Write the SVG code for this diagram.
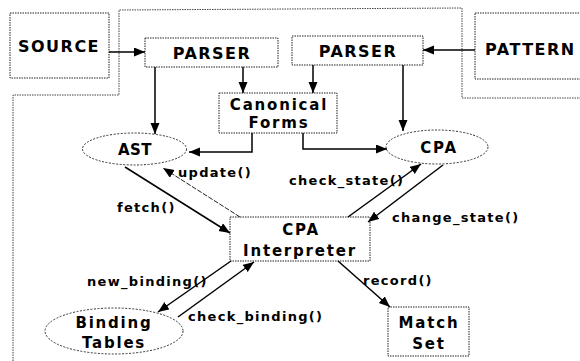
<svg xmlns="http://www.w3.org/2000/svg" width="580" height="361" viewBox="0 0 580 361">
<style>
.bg{fill:#fff}
.frame{fill:none;stroke:#444;stroke-width:1;stroke-dasharray:1.5 1}
.box{fill:#fff;stroke:#222;stroke-width:1;stroke-dasharray:1.5 1}
.ell{fill:#fff;stroke:#333;stroke-width:1;stroke-dasharray:2 1.5}
.big{font-family:"DejaVu Sans","Liberation Sans",sans-serif;font-weight:bold;font-size:16px;letter-spacing:1.5px;fill:#000;text-anchor:middle}
.node{font-family:"DejaVu Sans","Liberation Sans",sans-serif;font-weight:bold;font-size:15px;letter-spacing:1.8px;fill:#000;text-anchor:middle}
.lbl{font-family:"DejaVu Sans","Liberation Sans",sans-serif;font-weight:bold;font-size:13px;letter-spacing:1.3px;fill:#000}
.arr{fill:none;stroke:#000;stroke-width:1.5;marker-end:url(#ah)}
.thin{fill:none;stroke:#222;stroke-width:1;stroke-dasharray:5 1.5;marker-end:url(#ah)}
</style>
<defs>
<marker id="ah" markerUnits="userSpaceOnUse" markerWidth="12" markerHeight="10" refX="11" refY="4.5" orient="auto">
<path d="M0,0 L11,4.5 L0,9 z" fill="#000"/>
</marker>
</defs>
<rect class="bg" x="0" y="0" width="580" height="361"/>
<path class="frame" d="M13,361 L13,95 L119,95 L119,10 L462,8 L462,98 L580,98"/>

<g id="source"><rect class="box" x="10" y="13" width="99" height="65"/><text class="big" x="59" y="52">SOURCE</text></g>
<g id="parser1"><rect class="box" x="145" y="38" width="133" height="29"/><text class="big" x="212" y="59">PARSER</text></g>
<g id="parser2"><rect class="box" x="292" y="36" width="131" height="29"/><text class="big" x="358" y="57">PARSER</text></g>
<g id="pattern"><rect class="box" x="475" y="13" width="110" height="66"/><text class="big" x="485" y="55" style="text-anchor:start">PATTERN</text></g>
<g id="canonical"><rect class="box" x="219" y="93" width="118" height="40"/><text class="node" x="279" y="110">Canonical</text><text class="node" x="279" y="128">Forms</text></g>
<g id="ast"><ellipse class="ell" cx="134.5" cy="149" rx="52" ry="16"/><text class="node" x="135" y="155" style="letter-spacing:0.5px">AST</text></g>
<g id="cpa"><ellipse class="ell" cx="437" cy="147" rx="51" ry="17"/><text class="node" x="439" y="153">CPA</text></g>
<g id="interpreter"><rect class="box" x="230" y="217" width="140" height="44"/><text class="node" x="301" y="235">CPA</text><text class="node" x="300" y="256">Interpreter</text></g>
<g id="binding"><ellipse class="ell" cx="114" cy="331" rx="69" ry="23"/><text class="node" x="114" y="328">Binding</text><text class="node" x="114" y="348">Tables</text></g>
<g id="matchset"><rect class="box" x="388" y="307" width="81" height="49"/><text class="node" x="429" y="328">Match</text><text class="node" x="429" y="349">Set</text></g>

<g id="connectors">
<path class="arr" d="M109,52 L145,52"/>
<path class="arr" d="M475,50 L423,50"/>
<path class="arr" d="M155,67 L155,134"/>
<path class="arr" d="M243,67 L243,93"/>
<path class="arr" d="M313,65 L313,93"/>
<path class="arr" d="M403,65 L403,131"/>
<path class="arr" d="M252,133 L252,152 L189,152"/>
<path class="arr" d="M303,133 L303,149 L387,149"/>
<path class="arr" d="M125,167 L230,233"/>
<path class="thin" d="M240,217 L163,168"/>
<path class="arr" d="M348,217 L421,164"/>
<path class="arr" d="M443,165 L368,222"/>
<path class="arr" d="M231,261 L158,312"/>
<path class="arr" d="M178,317 L254,262"/>
<path class="arr" d="M338,261 L390,307"/>
</g>

<g id="labels">
<text class="lbl" x="178" y="177">update()</text>
<text class="lbl" x="289" y="185">check_state()</text>
<text class="lbl" x="117" y="212">fetch()</text>
<text class="lbl" x="392" y="222">change_state()</text>
<text class="lbl" x="87" y="286">new_binding()</text>
<text class="lbl" x="188" y="321">check_binding()</text>
<text class="lbl" x="363" y="285">record()</text>
</g>
</svg>
